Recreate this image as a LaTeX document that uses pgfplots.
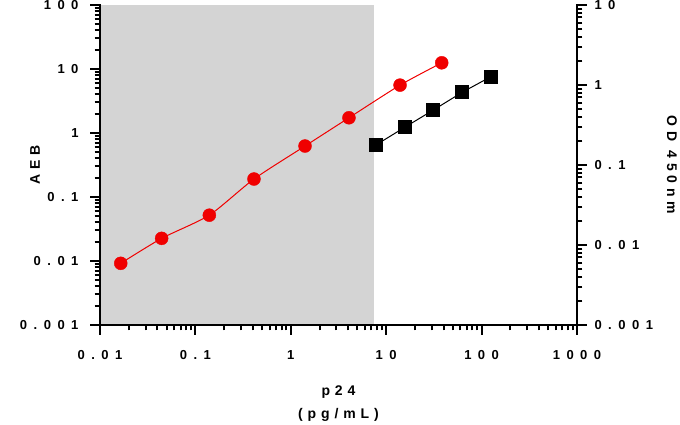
\documentclass[border=0pt]{standalone}
\usepackage{fontspec}
\setmainfont{Liberation Sans}
\newfontfamily\spaced{Liberation Sans}[LetterSpace=50]
\newfontfamily\spacedlab{Liberation Sans}[LetterSpace=35]
\usepackage{pgfplots}
\pgfplotsset{compat=1.18}
\definecolor{shade}{HTML}{D4D4D4}
\definecolor{ptred}{HTML}{F00000}

\begin{document}
\begin{tikzpicture}
\path[use as bounding box] (-100pt,-99pt) rectangle (580pt,325pt);
\begin{axis}[
    scale only axis, width=477pt, height=320pt,
    xmode=log, ymode=log, xmin=0.01, xmax=1000,
    ymin=0.001, ymax=100,
    axis line style={draw=none},
    xtick pos=left, ytick pos=left,
    tick align=outside,
    major tick length=10pt, minor tick length=5.5pt,
    tick style={black, line width=2pt},
    tick label style={font=\spaced\bfseries\fontsize{13}{14}\selectfont},
    xticklabel style={yshift=-12pt},
    yticklabel style={xshift=-8pt},
    label style={font=\spacedlab\bfseries\fontsize{14}{23}\selectfont},
    xtick={0.01,0.1,1,10,100,1000},
    xticklabels={0.01,0.1,1,10,100,1000},
    minor xtick={0.02,0.03,0.04,0.05,0.06,0.07,0.08,0.09,0.2,0.3,0.4,0.5,0.6,0.7,0.8,0.9,2,3,4,5,6,7,8,9,20,30,40,50,60,70,80,90,200,300,400,500,600,700,800,900},
    ytick={0.001,0.01,0.1,1,10,100},
    yticklabels={0.001,0.01,0.1,1,10,100},
    minor ytick={0.002,0.003,0.004,0.005,0.006,0.007,0.008,0.009,0.02,0.03,0.04,0.05,0.06,0.07,0.08,0.09,0.2,0.3,0.4,0.5,0.6,0.7,0.8,0.9,2,3,4,5,6,7,8,9,20,30,40,50,60,70,80,90},
    xlabel={p24\\(pg/mL)},
    xlabel style={align=center, at={(axis description cs:0.5,0)}, anchor=center, yshift=-79pt},
    ylabel={AEB},
    ylabel style={at={(axis description cs:0,0.5)}, anchor=center, yshift=65pt},
    clip=false,
]
\addplot[fill=shade, draw=none] coordinates {(0.01,0.001) (7.5,0.001) (7.5,100) (0.01,100)} -- cycle;
\addplot[ptred, line width=1pt, smooth, tension=0.4] coordinates {
  (0.0165,0.0092) (0.0443,0.0226) (0.140,0.052) (0.411,0.191)
  (1.41,0.626) (4.07,1.73) (13.97,5.6) (38.2,12.5)
};
\addplot[only marks, mark=*, mark size=6.5pt, ptred, mark options={draw=ptred, fill=ptred}] coordinates {
  (0.0165,0.0092) (0.0443,0.0226) (0.140,0.052) (0.411,0.191)
  (1.41,0.626) (4.07,1.73) (13.97,5.6) (38.2,12.5)
};
% axis lines: left, bottom, right
\draw[line width=2pt, line cap=rect] (axis description cs:0,1) -- (axis description cs:0,0) -- (axis description cs:1,0) -- (axis description cs:1,1);
\end{axis}
\begin{axis}[
    scale only axis, width=477pt, height=320pt,
    xmode=log, ymode=log, xmin=0.01, xmax=1000,
    ymin=0.001, ymax=10,
    axis line style={draw=none},
    xtick=\empty,
    ytick pos=right, yticklabel pos=right,
    tick align=outside,
    major tick length=10pt, minor tick length=5.5pt,
    tick style={black, line width=2pt},
    tick label style={font=\spaced\bfseries\fontsize{13}{14}\selectfont},
    yticklabel style={xshift=4pt},
    label style={font=\spacedlab\bfseries\fontsize{14}{16}\selectfont},
    ytick={0.001,0.01,0.1,1,10},
    yticklabels={0.001,0.01,0.1,1,10},
    minor ytick={0.002,0.003,0.004,0.005,0.006,0.007,0.008,0.009,0.02,0.03,0.04,0.05,0.06,0.07,0.08,0.09,0.2,0.3,0.4,0.5,0.6,0.7,0.8,0.9,2,3,4,5,6,7,8,9},
    ylabel={OD 450nm},
    ylabel style={at={(axis description cs:1,0.5)}, anchor=center, rotate=180, yshift=95pt},
    clip=false,
]
\addplot[black, line width=1pt, mark=square*, mark size=6.5pt] coordinates {
  (7.8125,0.178) (15.625,0.296) (31.25,0.487) (62.5,0.81) (125,1.27)
};
\end{axis}
\end{tikzpicture}
\end{document}
